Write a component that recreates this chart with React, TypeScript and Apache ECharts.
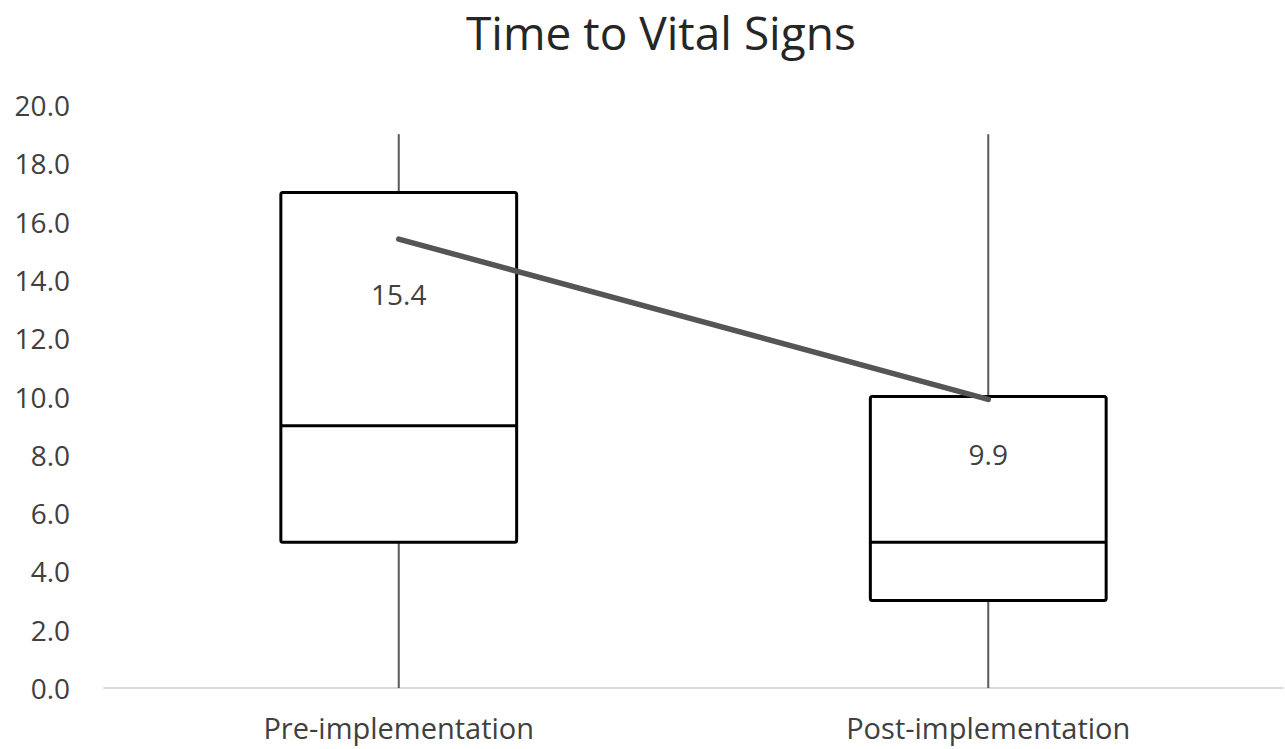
import React, { useEffect, useRef } from "react";
import * as echarts from "echarts";

const categories = ["Pre-implementation", "Post-implementation"];
const whiskerMin = [0, 0];
const q1 = [5, 3];
const median = [9, 5];
const q3 = [17, 10];
const whiskerMax = [19, 19];
const means = [15.4, 9.9];
const yTicks = { min: 0, max: 20, interval: 2 };

export default function App() {
  const ref = useRef<HTMLDivElement>(null);
  useEffect(() => {
    document.body.style.margin = "0";
    const chart = echarts.init(ref.current!, null, { renderer: "svg" });
    const boxData = categories.map((_, i) => [i, whiskerMin[i], q1[i], median[i], q3[i], whiskerMax[i]]);
    const font = "'Open Sans', sans-serif";
    chart.setOption({
      animation: false,
      title: {
        text: "Time to Vital Signs",
        left: 461,
        top: 4,
        textStyle: { fontFamily: font, fontSize: 46, fontWeight: "normal", color: "#262626" },
      },
      grid: { left: 104, right: 2, top: 105, bottom: 61, containLabel: false },
      xAxis: {
        type: "category",
        data: categories,
        axisLine: { lineStyle: { color: "#d9d9d9", width: 2 } },
        axisTick: { show: false },
        axisLabel: { fontFamily: font, fontSize: 29, color: "#404040", margin: 25 },
        splitLine: { show: false },
      },
      yAxis: {
        type: "value",
        min: yTicks.min,
        max: yTicks.max,
        interval: yTicks.interval,
        axisLine: { show: false },
        axisTick: { show: false },
        splitLine: { show: false },
        axisLabel: {
          fontFamily: font,
          fontSize: 28,
          color: "#404040",
          margin: 34,
          formatter: (v: number) => v.toFixed(1),
        },
      },
      series: [
        {
          type: "custom",
          data: boxData,
          encode: { x: 0, y: [1, 2, 3, 4, 5] },
          renderItem: (params: any, api: any) => {
            const idx = api.value(0);
            const pMin = api.coord([idx, api.value(1)]);
            const pQ1 = api.coord([idx, api.value(2)]);
            const pMed = api.coord([idx, api.value(3)]);
            const pQ3 = api.coord([idx, api.value(4)]);
            const pMax = api.coord([idx, api.value(5)]);
            const bw = api.size([1, 0])[0] * 0.4;
            const x = pQ1[0];
            const half = bw / 2;
            return {
              type: "group",
              children: [
                { type: "line", shape: { x1: x, y1: pMax[1], x2: x, y2: pQ3[1] }, style: { stroke: "#595959", lineWidth: 2 } },
                { type: "line", shape: { x1: x, y1: pQ1[1], x2: x, y2: pMin[1] }, style: { stroke: "#595959", lineWidth: 2 } },
                {
                  type: "rect",
                  shape: { x: x - half, y: pQ3[1], width: bw, height: pQ1[1] - pQ3[1], r: 2 },
                  style: { fill: "#ffffff", stroke: "#000000", lineWidth: 3 },
                },
                { type: "line", shape: { x1: x - half, y1: pMed[1], x2: x + half, y2: pMed[1] }, style: { stroke: "#000000", lineWidth: 3 } },
              ],
            };
          },
          z: 1,
        },
        {
          type: "line",
          data: means,
          symbol: "circle",
          symbolSize: 1,
          showSymbol: true,
          itemStyle: { color: "#595959", opacity: 0 },
          lineStyle: { color: "#555555", width: 5.5, cap: "round" },
          z: 5,
          label: {
            show: true,
            position: "bottom",
            distance: 40,
            fontFamily: font,
            fontSize: 28,
            color: "#404040",
            opacity: 1,
            formatter: (p: any) => Number(p.value).toFixed(1),
          },
        },
      ],
    });
    return () => chart.dispose();
  }, []);
  return <div ref={ref} style={{ width: 1285, height: 749 }} />;
}
